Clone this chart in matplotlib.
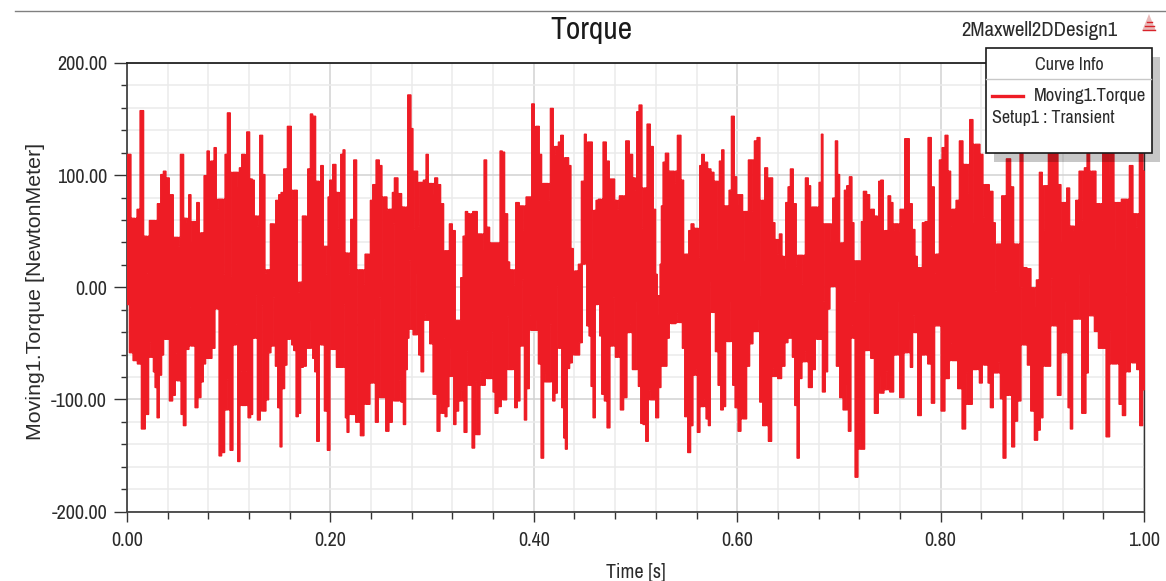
"""Maxwell 2D torque report, redrawn from a transient solve screenshot."""

import numpy as np
import matplotlib
matplotlib.use("Agg")
import matplotlib.pyplot as plt
from matplotlib.patches import Rectangle, Polygon
from matplotlib.ticker import MultipleLocator, FormatStrFormatter

# ── Samples: (sample number, torque in N.m) ───
# Upper and lower contours, one pair of lists per stretch of the time axis.

SAMPLES_PER_SECOND = 3051
STRETCH_START = [-81, 729, 1539, 2334]

upper_a = [(85,119),(97,62),(105,26),(113,70),(124,158),(135,46),(141,13),(152,60),(165,57),(175,75),
    (185,101),(192,104),(200,98),(212,83),(225,45),(235,37),(243,119),(255,62),(260,57),(268,83),
    (275,40),(285,59),(292,76),(300,42),(305,49),(315,100),(323,122),(330,100),(337,113),(343,125),
    (352,70),(363,79),(370,12),(377,119),(383,156),(395,10),(403,103),(413,89),(420,107),(427,119),
    (435,67),(442,139),(452,97),(458,96),(465,64),(472,55),(482,136),(490,101),(497,13),(505,16),
    (514,57),(521,56),(530,78),(538,83),(545,85),(553,106),(567,144),(578,79),(586,87),(595,-4),
    (600,5),(610,64),(618,36),(625,106),(633,155),(640,153),(650,95),(657,59),(664,109),(673,37),
    (680,12),(684,81),(690,96),(702,110),(710,85),(716,53),(724,119),(730,123),(737,31),(745,12),
    (755,61),(764,114),(773,-33),(780,16),(790,3),(797,30),(806,24)]
lower_a = [(81,-15),(92,-58),(103,-65),(117,-68),(128,-126),(140,-113),(148,-49),(155,-62),(161,-75),(166,-89),
    (172,-116),(180,-78),(186,-60),(192,-19),(200,-46),(212,-101),(220,-96),(228,-59),(238,-83),(244,-113),
    (252,-123),(260,-55),(270,-18),(280,-52),(287,-107),(298,-98),(305,-84),(312,-68),(318,-12),(330,-63),
    (338,-54),(348,4),(352,-19),(358,-150),(368,-147),(377,-109),(383,-82),(393,-145),(402,-51),(408,-33),
    (414,-155),(423,-75),(431,-105),(438,-75),(447,-116),(453,-113),(460,-45),(466,-7),(474,-118),(484,-16),
    (492,-110),(500,-100),(508,-58),(515,-52),(521,-9),(528,-70),(535,-107),(541,-142),(548,-90),(556,-69),
    (563,-46),(570,-4),(576,-51),(582,-56),(590,-115),(596,-112),(604,-71),(613,-70),(622,-54),(632,-30),
    (640,-63),(645,-75),(652,-137),(660,-46),(668,-51),(675,-110),(685,-145),(692,28),(702,-55),(712,-71),
    (720,-71),(730,-15),(738,-116),(741,-129),(750,-86),(762,-113),(768,-120),(773,-33),(785,-132),(795,-90),
    (803,-104)]

upper_b = [(3,78),(10,92),(22,114),(30,109),(38,6),(45,81),(53,69),(62,70),(68,85),(75,98),
    (90,84),(97,72),(105,48),(117,172),(125,142),(130,52),(137,104),(145,55),(153,94),(163,96),
    (169,119),(178,93),(187,83),(197,98),(205,92),(216,75),(222,-45),(232,33),(240,57),(250,51),
    (258,-29),(266,-29),(275,9),(280,46),(288,68),(295,66),(300,1),(313,68),(327,48),(337,34),
    (344,114),(352,54),(362,40),(375,40),(385,40),(392,122),(398,121),(407,66),(415,23),(420,16),
    (430,2),(440,76),(452,73),(461,51),(472,81),(480,81),(487,164),(495,119),(503,144),(510,119),
    (516,61),(527,93),(535,78),(543,160),(553,119),(560,126),(566,130),(574,136),(582,-54),(590,116),
    (598,109),(604,35),(612,3),(619,15),(628,21),(637,95),(645,137),(650,119),(662,130),(668,25),
    (673,69),(680,78),(687,79),(693,45),(702,130),(712,113),(720,97),(727,97),(737,78),(742,70),
    (750,82),(760,79),(770,131),(782,119),(790,98),(795,87),(802,157),(808,163)]
lower_b = [(3,-85),(10,-27),(18,-120),(28,-9),(33,-98),(40,-98),(50,-128),(60,-120),(70,57),(78,-101),
    (88,-83),(95,-102),(102,-122),(108,-73),(113,-45),(118,24),(124,-37),(130,-42),(140,13),(148,-60),
    (155,-75),(163,-24),(172,-29),(182,-50),(193,-95),(205,-128),(212,-103),(220,-112),(226,-115),(232,-106),
    (238,-54),(245,-79),(253,-122),(260,-110),(268,-101),(275,-92),(285,-129),(293,-57),(300,-87),(308,-143),
    (316,-84),(325,-131),(332,-75),(340,-87),(348,-66),(356,-81),(364,-40),(370,-93),(377,-112),(388,-106),
    (396,-52),(404,-100),(412,-26),(420,-73),(428,-72),(436,-107),(444,-101),(452,-52),(458,7),(464,-118),
    (472,-90),(480,-25),(490,-38),(500,-29),(507,-68),(515,-152),(523,-76),(535,-84),(542,-33),(550,-101),
    (557,-94),(563,1),(570,-54),(577,-107),(582,-134),(587,-144),(594,-72),(600,-67),(610,-59),(622,-60),
    (632,-49),(638,21),(645,33),(652,-34),(658,-43),(665,-88),(670,-116),(678,-15),(684,1),(690,-43),
    (697,-95),(705,-101),(714,-125),(722,-52),(730,-9),(738,-62),(745,-56),(753,-109),(765,-98),(773,-40),
    (780,-33),(790,-73),(800,-12),(807,-88)]

upper_c = [(0,163),(8,53),(15,89),(23,146),(35,126),(42,70),(48,12),(52,-7),(56,-24),(60,21),
    (64,73),(70,112),(79,120),(90,104),(103,93),(118,136),(125,96),(133,24),(140,30),(148,51),
    (155,57),(166,53),(175,27),(180,109),(186,119),(196,112),(207,106),(215,103),(225,95),(233,34),
    (240,113),(247,123),(254,73),(263,73),(268,87),(277,153),(285,99),(292,73),(302,83),(310,23),
    (318,68),(329,114),(338,68),(345,131),(354,134),(362,-7),(368,78),(377,107),(385,97),(393,98),
    (400,58),(407,43),(413,30),(420,48),(428,28),(433,16),(438,76),(446,90),(452,106),(464,75),
    (470,19),(480,29),(488,3),(500,98),(507,91),(513,35),(524,72),(531,48),(540,94),(544,137),
    (550,-12),(558,57),(565,57),(572,40),(580,80),(588,131),(595,101),(600,12),(607,40),(615,87),
    (622,91),(631,99),(638,58),(643,-12),(651,24),(660,-9),(665,59),(672,86),(684,83),(690,64),
    (698,70),(705,64),(711,33),(717,95),(724,96),(732,42),(739,51),(746,82),(754,76),(760,51),
    (767,57),(775,49),(782,70)]
lower_c = [(3,-121),(11,-122),(19,-137),(28,-92),(40,-100),(50,-116),(58,-89),(65,-70),(75,-70),(83,-45),
    (90,-19),(100,-32),(113,-23),(122,-31),(128,-54),(137,-115),(146,-147),(154,-123),(160,-78),(166,-73),
    (174,-129),(183,-106),(192,-100),(200,-117),(206,-123),(212,6),(220,-22),(228,-57),(236,-87),(245,-109),
    (252,-106),(258,-21),(266,-48),(272,-12),(280,-87),(287,-107),(298,-128),(305,-109),(314,-117),(322,-70),
    (332,-50),(342,-39),(352,-28),(362,-102),(370,-123),(378,-79),(389,-137),(397,-72),(405,-79),(418,-81),
    (428,-70),(438,-49),(447,-45),(452,-37),(458,-62),(466,-105),(473,-152),(480,-81),(488,-66),(497,-57),
    (510,-89),(520,-73),(528,-45),(540,-46),(550,-93),(558,-75),(564,-19),(572,1),(582,10),(592,-70),
    (603,-98),(612,-109),(620,-86),(627,-128),(636,-34),(640,-45),(647,-169),(658,-130),(667,-144),(677,-56),
    (685,-4),(695,-63),(708,-112),(718,-79),(727,-94),(733,-91),(740,-75),(754,-93),(765,-60),(772,-12),
    (782,-98)]

upper_d = [(8,133),(15,75),(25,52),(32,28),(38,18),(45,15),(55,58),(62,59),(72,134),(82,90),
    (90,13),(97,30),(105,114),(113,125),(123,136),(132,104),(138,55),(147,70),(155,78),(167,131),
    (178,110),(187,84),(198,150),(206,57),(218,128),(228,119),(236,63),(245,92),(258,86),(266,58),
    (272,-3),(282,39),(295,82),(310,115),(320,90),(328,39),(340,0),(347,135),(357,18),(372,17),
    (380,0),(388,-18),(397,7),(405,103),(415,51),(425,91),(432,130),(452,138),(463,92),(470,40),
    (478,76),(488,89),(497,55),(506,51),(515,78),(525,104),(533,60),(540,107),(548,128),(557,101),
    (565,104),(578,75),(585,60),(598,132),(610,100),(618,125),(632,34),(640,76),(655,79),(665,-6),
    (678,109),(687,66),(695,54),(708,130),(716,104)]
lower_d = [(3,-58),(10,-46),(18,-71),(25,-25),(30,-40),(42,-114),(52,-60),(60,-24),(72,-68),(83,-103),
    (92,-34),(100,-34),(112,-110),(125,-81),(138,-50),(150,-65),(163,-90),(175,-126),(185,-76),(194,-104),
    (206,-73),(216,-12),(226,-85),(234,-22),(245,-69),(250,-85),(258,-107),(268,-76),(280,-67),(288,-99),
    (297,-152),(305,-96),(312,-36),(325,-142),(330,-119),(342,-101),(350,0),(360,-51),(370,-69),(380,-110),
    (393,-136),(400,-127),(408,-116),(417,-57),(430,-70),(440,8),(450,-34),(460,-96),(472,-58),(482,-12),
    (492,-107),(497,-126),(505,-27),(513,-28),(520,12),(536,-112),(546,-76),(550,12),(560,-25),(572,-39),
    (585,-54),(596,-54),(607,-133),(617,-39),(628,-68),(636,-23),(644,-104),(656,-114),(665,-6),(670,-75),
    (678,-7),(688,-67),(698,-73),(707,-123),(716,-91)]

# ── Axis text ─────────────────────────────────

TITLE = "Torque"
DESIGN_NAME = "2Maxwell2DDesign1"
X_LABEL = "Time [s]"
Y_LABEL = "Moving1.Torque [NewtonMeter]"
LEGEND_TITLE = "Curve Info"
LEGEND_CURVE = "Moving1.Torque"
LEGEND_SETUP = "Setup1 : Transient"

RED = "#ee1c25"
TEXT = "#2b2b2b"
SANS = "Liberation Sans"
NARROW = ["Archivo Narrow", "Liberation Sans"]
W, H = 1166, 581
SLIT = 1.5  # half width of a notch in the trace, in samples


def contour(stretches, sign):
    """Upper (sign=1) or lower (sign=-1) edge of the trace, sample by sample."""
    points = []
    for start, part in zip(STRETCH_START, stretches):
        points += [(start + n, v) for n, v in part]
    points.sort()
    n, v = np.array(points, dtype=float).T
    v = v * sign

    # each reading holds for the samples nearest to it
    grid = np.arange(0, SAMPLES_PER_SECOND + 1)
    owner = np.searchsorted((n[:-1] + n[1:]) / 2, grid)
    edge = v[owner]

    # the gaps between strokes are only slits: a dip keeps its depth, not its width
    for i in range(1, len(v) - 1):
        if v[i] < v[i - 1] and v[i] < v[i + 1]:
            wide = (owner == i) & (np.abs(grid - n[i]) > SLIT)
            edge[wide] = min(v[i - 1], v[i + 1])
    return grid, edge * sign


def draw_chart(fig):
    ax = fig.add_axes([127 / W, 1 - 511.5 / H, 1017 / W, 448.5 / H])

    grid, up = contour([upper_a, upper_b, upper_c, upper_d], 1)
    _, lo = contour([lower_a, lower_b, lower_c, lower_d], -1)
    ax.fill_between(grid / SAMPLES_PER_SECOND, lo, up, step="mid", facecolor=RED,
                    edgecolor=RED, lw=0.9, joinstyle="miter", zorder=3)

    ax.set_xlim(0, 1)
    ax.set_ylim(-200, 200)
    ax.xaxis.set_major_locator(MultipleLocator(0.2))
    ax.xaxis.set_minor_locator(MultipleLocator(0.04))
    ax.yaxis.set_major_locator(MultipleLocator(100))
    ax.yaxis.set_minor_locator(MultipleLocator(20))
    ax.xaxis.set_major_formatter(FormatStrFormatter("%.2f"))
    ax.yaxis.set_major_formatter(FormatStrFormatter("%.2f"))

    ax.set_axisbelow(True)
    ax.grid(which="major", color="#d2d2d2", lw=1.1)
    ax.grid(which="minor", color="#ebebeb", lw=1.1)

    ax.tick_params(which="major", axis="y", length=9.4, width=1.0, color="#333333",
                   labelcolor=TEXT, labelsize=14.5, pad=5)
    ax.tick_params(which="major", axis="x", length=7.2, width=1.0, color="#333333",
                   labelcolor=TEXT, labelsize=14.5, pad=6.5)
    ax.tick_params(which="minor", axis="y", length=4.3, width=1.0, color="#333333")
    ax.tick_params(which="minor", axis="x", length=5.0, width=1.0, color="#333333")
    for lbl in ax.get_xticklabels() + ax.get_yticklabels():
        lbl.set_family(NARROW)

    for side, lw, col in [("left", 1.3, "#444444"), ("right", 1.0, "#333333"),
                          ("top", 1.3, "#222222"), ("bottom", 1.3, "#444444")]:
        ax.spines[side].set_linewidth(lw)
        ax.spines[side].set_color(col)

    ax.set_title(TITLE, fontsize=22.8, family=NARROW, color="#1a1a1a", pad=17.5,
                 x=(591 - 127) / 1017)
    ax.set_xlabel(X_LABEL, fontsize=14.5, family=NARROW, color=TEXT)
    ax.xaxis.set_label_coords(0.5, -0.114)
    ax.set_ylabel(Y_LABEL, fontsize=15.4, family=SANS, color=TEXT)
    ax.yaxis.set_label_coords(-82 / 1017, 0.49)


def draw_overlay(fig):
    """Report furniture: top rule, logo, design name, curve info box."""
    ov = fig.add_axes([0, 0, 1, 1], facecolor="none")
    ov.set_xlim(0, W)
    ov.set_ylim(H, 0)
    ov.axis("off")

    ov.plot([15, W], [10.5, 10.5], color="#808080", lw=1.0)

    # Logo
    ov.add_patch(Polygon([(1149, 14), (1142, 31), (1156, 31)], closed=True,
                         facecolor="#e9b9b9", edgecolor="none"))
    for y, x0, x1 in [(22, 1146.5, 1151.5), (26, 1144.5, 1153.5), (30, 1143, 1155)]:
        ov.plot([x0, x1], [y, y], color="#d8232a", lw=1.0)

    ov.text(1118, 30, DESIGN_NAME, ha="right", va="center", fontsize=15,
            family=NARROW, color=TEXT)

    # Curve info box
    ov.add_patch(Rectangle((994, 57), 166, 105, facecolor="black", alpha=0.22,
                           edgecolor="none", zorder=5))
    ov.add_patch(Rectangle((986, 47.5), 165.5, 105.5, facecolor="white",
                           edgecolor="#1a1a1a", lw=1.2, zorder=6))
    ov.plot([986, 1151], [79, 79], color="#c8c8c8", lw=1.0, zorder=7)
    ov.plot([992, 1023], [96, 96], color=RED, lw=2.4, zorder=7)
    ov.text(1069, 65.5, LEGEND_TITLE, ha="center", va="center", fontsize=13,
            family=NARROW, color=TEXT, zorder=7)
    ov.text(1034, 96.5, LEGEND_CURVE, ha="left", va="center", fontsize=13.5,
            family=NARROW, color=TEXT, zorder=7)
    ov.text(992, 118, LEGEND_SETUP, ha="left", va="center", fontsize=13,
            family=NARROW, color=TEXT, zorder=7)


def main():
    fig = plt.figure(figsize=(W / 100, H / 100), dpi=100, facecolor="white")
    draw_chart(fig)
    draw_overlay(fig)
    fig.savefig("out.png", dpi=100)


if __name__ == "__main__":
    main()
